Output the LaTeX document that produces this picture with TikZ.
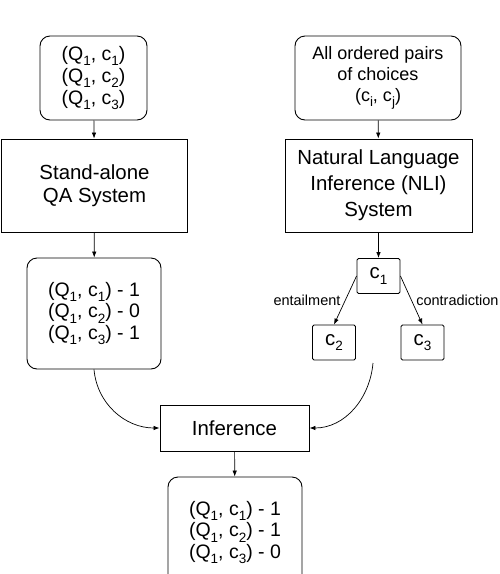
\documentclass[tikz,border=0pt]{standalone}
\usepackage{fontspec}
\setmainfont{Liberation Sans}
\usetikzlibrary{arrows.meta}
\newcommand{\lowidx}[1]{\raisebox{-0.5ex}{\fontsize{13.5}{13.5}\selectfont #1}}
\tikzset{
  databox/.style={draw, rounded corners=10pt, line width=0.9pt, align=center, inner sep=0pt,
    font=\fontsize{19.5}{21.7}\selectfont},
  sysbox/.style={draw, line width=0.9pt, align=center, inner sep=0pt},
  choicebox/.style={draw, rounded corners=1.5pt, line width=0.9pt, inner sep=0pt,
    minimum width=43pt, minimum height=35pt},
  link/.style={-{Latex[length=6pt,width=4.5pt]}, line width=0.7pt},
  relation/.style={font=\fontsize{14.5}{16}\selectfont, inner sep=4.5pt},
}

\begin{document}
\begin{tikzpicture}[x=1pt, y=-1pt, font=\fontsize{20.4}{23.3}\selectfont]
\useasboundingbox (0,0) rectangle (500,574);
\clip (0,0) rectangle (500,574);

% inputs
\node[databox, minimum width=107pt, minimum height=84pt] (pairs) at (93.5,78)
  {(Q\lowidx{1}, c\lowidx{1})\\(Q\lowidx{1}, c\lowidx{2})\\(Q\lowidx{1}, c\lowidx{3})};
\node[databox, minimum width=166pt, minimum height=84pt,
  font=\fontsize{18}{21}\selectfont] (choices) at (378,78)
  {All ordered pairs\\of choices\\(c\lowidx{i}, c\lowidx{j})};

% systems
\node[sysbox, minimum width=186pt, minimum height=93pt] (qa) at (94.5,185.5)
  {Stand-alone\\QA System};
\node[sysbox, minimum width=187pt, minimum height=93pt,
  font=\fontsize{20.4}{26}\selectfont] (nli) at (378.5,185.5)
  {Natural Language\\Inference (NLI)\\System};

% outputs of the systems
\node[databox, minimum width=134pt, minimum height=111pt] (scores) at (94,313.5)
  {(Q\lowidx{1}, c\lowidx{1}) - 1\\(Q\lowidx{1}, c\lowidx{2}) - 0\\(Q\lowidx{1}, c\lowidx{3}) - 1};
\node[choicebox] (c1) at (378.5,276) {c\lowidx{1}};
\node[choicebox] (c2) at (334,342.5) {c\lowidx{2}};
\node[choicebox] (c3) at (422.5,342.5) {c\lowidx{3}};
\coordinate (graphout) at (373,363);

% inference
\node[sysbox, minimum width=149pt, minimum height=46pt] (infer) at (234.5,428) {Inference};
\node[databox, minimum width=134pt, minimum height=111pt] (final) at (235,532.5)
  {(Q\lowidx{1}, c\lowidx{1}) - 1\\(Q\lowidx{1}, c\lowidx{2}) - 1\\(Q\lowidx{1}, c\lowidx{3}) - 0};

\draw[link] (pairs) -- (qa);
\draw[link] (qa) -- (scores);
\draw[link] (choices) -- (nli);
\draw[link] (nli) -- (c1);
\draw[link] (c1.west) -- node[relation, left] (entail) {entailment} (c2.north);
\draw[link] (c1.east) -- node[relation, right] (contra) {contradiction} (c3.north);
\draw[link] (scores.south) to[out=-85, in=180] (infer.west);
\draw[link] (graphout) to[out=-95, in=0] (infer.east);
\draw[link] (infer) -- (final);
\end{tikzpicture}
\end{document}
